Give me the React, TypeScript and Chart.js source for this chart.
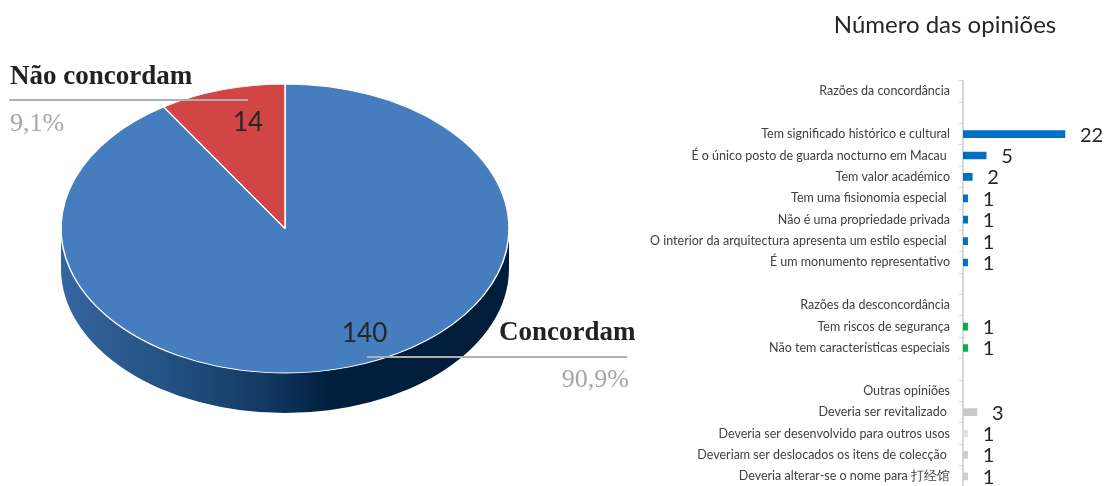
import React, { useEffect, useRef } from "react";
import { Chart, registerables } from "chart.js";

Chart.register(...registerables);

// ---------- Pie data ----------
const pieLabels = ["Concordam", "Não concordam"];
const pieValues = [140, 14];
const piePercents = ["90,9%", "9,1%"];
const pieColors = ["#467dbe", "#d24545"];

// ---------- Bar data ----------
const barTitle = "Número das opiniões";
const barCategories = [
  "Razões da concordância",
  "",
  "Tem significado histórico e cultural",
  "É o único posto de guarda nocturno em Macau ",
  "Tem valor académico",
  "Tem uma fisionomia especial ",
  "Não é uma propriedade privada",
  "O interior da arquitectura apresenta um estilo especial ",
  "É um monumento representativo",
  "",
  "Razões da desconcordância",
  "Tem riscos de segurança",
  "Não tem características especiais",
  "",
  "Outras opiniões",
  "Deveria ser revitalizado ",
  "Deveria ser desenvolvido para outros usos",
  "Deveriam ser deslocados os itens de colecção ",
  "Deveria alterar-se o nome para 打经馆",
];
const barValues = [null, null, 22, 5, 2, 1, 1, 1, 1, null, null, 1, 1, null, null, 3, 1, 1, 1];
const barColors = [
  "#0070c0", "#0070c0", "#0070c0", "#0070c0", "#0070c0", "#0070c0", "#0070c0", "#0070c0", "#0070c0",
  "#00b050", "#00b050", "#00b050", "#00b050",
  "#c8c8c8", "#c8c8c8", "#c8c8c8", "#e0e0e0", "#cdcdcd", "#cdcdcd",
];

const SANS = "Lato, 'Noto Sans', sans-serif";
const SERIF = "'Liberation Serif', 'DejaVu Serif', serif";
const K = 0.645; // vertical squash of the pie top
const DEPTH = 40; // thickness of the pie

const pie3dPlugin = {
  id: "pie3d",
  beforeDatasetsDraw(chart: any) {
    const arc = chart.getDatasetMeta(0).data[0];
    if (!arc) return;
    const { x, y, outerRadius } = arc.getProps(["x", "y", "outerRadius"], true);
    const ctx = chart.ctx;
    const rx = outerRadius;
    const ry = outerRadius * K;
    const g = ctx.createLinearGradient(x - rx, 0, x + rx, 0);
    g.addColorStop(0, "#3566a0");
    g.addColorStop(0.25, "#234f80");
    g.addColorStop(0.45, "#133a64");
    g.addColorStop(0.6, "#001f3d");
    g.addColorStop(1, "#001e3a");
    ctx.save();
    ctx.fillStyle = g;
    ctx.beginPath();
    ctx.ellipse(x, y, rx, ry, 0, 0, Math.PI, false);
    ctx.ellipse(x, y + DEPTH, rx, ry, 0, Math.PI, 0, true);
    ctx.closePath();
    ctx.fill();
    ctx.restore();
    ctx.save();
    ctx.translate(x, y);
    ctx.scale(1, K);
    ctx.translate(-x, -y);
  },
  afterDatasetsDraw(chart: any) {
    const ctx = chart.ctx;
    ctx.restore();
    ctx.save();
    // value labels
    ctx.fillStyle = "#262626";
    ctx.font = `26px ${SANS}`;
    ctx.textBaseline = "alphabetic";
    ctx.textAlign = "left";
    ctx.fillText(String(pieValues[1]), 233, 131);
    ctx.fillText(String(pieValues[0]), 342, 342);
    // leader lines
    ctx.strokeStyle = "#b0b0b0";
    ctx.lineWidth = 2;
    ctx.beginPath();
    ctx.moveTo(9, 100);
    ctx.lineTo(248, 100);
    ctx.moveTo(367, 357);
    ctx.lineTo(627, 357);
    ctx.stroke();
    // category names
    ctx.fillStyle = "#222222";
    ctx.font = `bold 27px ${SERIF}`;
    ctx.fillText(pieLabels[1], 10, 84);
    ctx.fillText(pieLabels[0], 499, 340);
    // percents
    ctx.fillStyle = "#a6a6a6";
    ctx.font = `26px ${SERIF}`;
    ctx.fillText(piePercents[1], 10, 131);
    ctx.textAlign = "right";
    ctx.fillText(piePercents[0], 629, 387);
    ctx.restore();
  },
};

const barLabelPlugin = {
  id: "barLabels",
  afterDatasetsDraw(chart: any) {
    const ctx = chart.ctx;
    const meta = chart.getDatasetMeta(0);
    ctx.save();
    ctx.fillStyle = "#262626";
    ctx.font = `20px ${SANS}`;
    ctx.textBaseline = "middle";
    ctx.textAlign = "left";
    meta.data.forEach((bar: any, i: number) => {
      const v = barValues[i];
      if (v == null) return;
      ctx.fillText(String(v), bar.x + 15, bar.y + 1);
    });
    // title
    ctx.fillStyle = "#262626";
    ctx.font = `24px ${SANS}`;
    ctx.textAlign = "center";
    ctx.textBaseline = "alphabetic";
    ctx.fillText(barTitle, 945 - 640, 33);
    ctx.restore();
  },
};

export default function App() {
  const pieRef = useRef<HTMLCanvasElement | null>(null);
  const barRef = useRef<HTMLCanvasElement | null>(null);

  useEffect(() => {
    const pie = new Chart(pieRef.current as HTMLCanvasElement, {
      type: "pie",
      data: {
        labels: pieLabels,
        datasets: [
          {
            data: pieValues,
            backgroundColor: pieColors,
            borderColor: "#ffffff",
            borderWidth: 1.5,
            clip: false,
          } as any,
        ],
      },
      options: {
        responsive: false,
        maintainAspectRatio: false,
        animation: false,
        events: [],
        radius: 224,
        layout: { padding: { left: 61, right: 131, top: 4.5, bottom: 33.5 } },
        plugins: { legend: { display: false }, tooltip: { enabled: false } },
      } as any,
      plugins: [pie3dPlugin],
    });

    const bar = new Chart(barRef.current as HTMLCanvasElement, {
      type: "bar",
      data: {
        labels: barCategories,
        datasets: [
          {
            data: barValues as any,
            backgroundColor: barColors,
            barThickness: 7,
          },
        ],
      },
      options: {
        indexAxis: "y",
        responsive: false,
        maintainAspectRatio: false,
        animation: false,
        events: [],
        layout: { padding: { left: 0, right: 4, top: 80.7, bottom: 33 } },
        plugins: { legend: { display: false }, tooltip: { enabled: false }, title: { display: false } },
        scales: {
          x: { display: false, min: 0, max: 30 },
          y: {
            afterFit(s: any) {
              s.width = 323;
            },
            grid: {
              display: true,
              drawOnChartArea: false,
              drawTicks: true,
              tickLength: 4,
              color: "#d9d9d9",
              offset: true,
            },
            border: { display: true, color: "#d9d9d9", width: 2 },
            ticks: {
              autoSkip: false,
              padding: 9,
              color: "#404040",
              font: { family: SANS, size: 12.5 },
            },
          },
        },
      } as any,
      plugins: [barLabelPlugin],
    });

    return () => {
      pie.destroy();
      bar.destroy();
    };
  }, []);

  return (
    <div
      style={{
        position: "fixed",
        left: 0,
        top: 0,
        width: 1106,
        height: 486,
        overflow: "hidden",
        background: "#ffffff",
      }}
    >
      <canvas
        ref={pieRef}
        width={640}
        height={486}
        style={{ position: "absolute", left: 0, top: 0, width: 640, height: 486 }}
      />
      <canvas
        ref={barRef}
        width={466}
        height={520}
        style={{ position: "absolute", left: 640, top: 0, width: 466, height: 520 }}
      />
    </div>
  );
}
